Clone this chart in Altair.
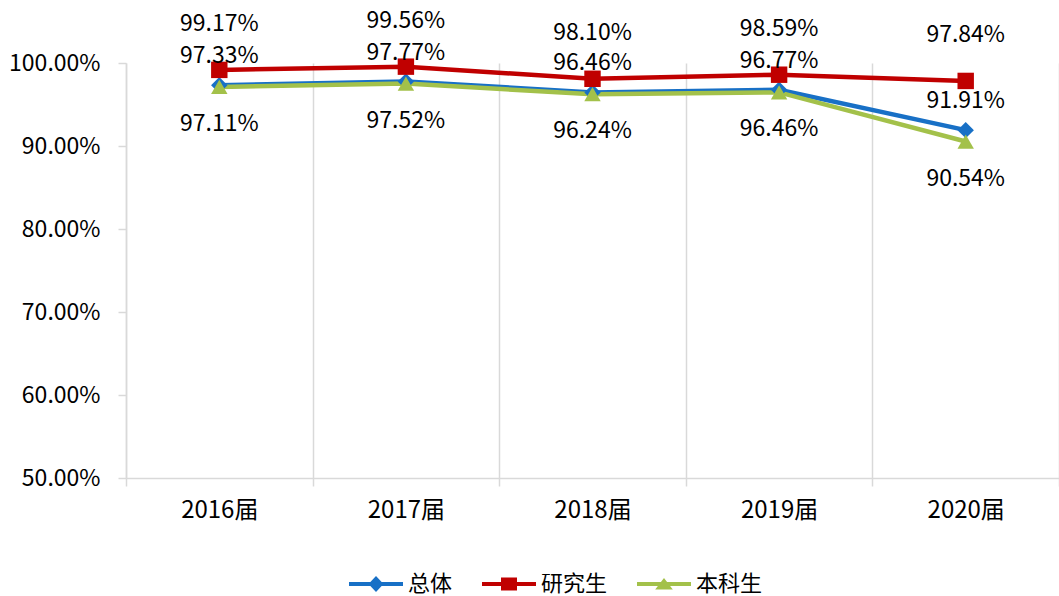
import altair as alt
import pandas as pd

# ---- data ----
years = ["2016届", "2017届", "2018届", "2019届", "2020届"]
series_names = ["总体", "研究生", "本科生"]
overall = [97.33, 97.77, 96.46, 96.77, 91.91]
graduate = [99.17, 99.56, 98.10, 98.59, 97.84]
undergraduate = [97.11, 97.52, 96.24, 96.46, 90.54]
y_ticks = [50, 60, 70, 80, 90, 100]

# ---- styles ----
colors = ["#1870C6", "#C00000", "#A3C14A"]
shapes = ["diamond", "square", "triangle-up"]
# legend symbols: path coords scaled by r = sqrt(symbolSize)/2 = 10
legend_paths = [
    "M-2.7,-0.2L2.7,-0.2L2.7,0.2L-2.7,0.2Z M0,-0.8L0.75,0L0,0.8L-0.75,0Z",
    "M-2.7,-0.2L2.7,-0.2L2.7,0.2L-2.7,0.2Z M-0.8,-0.66L0.8,-0.66L0.8,0.66L-0.8,0.66Z",
    "M-2.7,-0.2L2.7,-0.2L2.7,0.2L-2.7,0.2Z M0,-0.6L0.88,0.55L-0.88,0.55Z",
]
label_dy = {"总体": -29, "研究生": -46, "本科生": 37}
FONT = "Noto Sans CJK SC"
TXT = "#000000"
GRID = "#D9D9D9"

rows = []
for name, vals in zip(series_names, [overall, graduate, undergraduate]):
    for yr, v in zip(years, vals):
        rows.append({"year": yr, "series": name, "value": v, "label": f"{v:.2f}%"})
df = pd.DataFrame(rows)

x_enc = alt.X(
    "year:N",
    sort=years,
    scale=alt.Scale(type="band", paddingInner=0, paddingOuter=0),
    axis=alt.Axis(
        title=None, tickBand="extent", grid=True, gridColor=GRID, gridWidth=1.5,
        domainColor=GRID, domainWidth=1.5, tickColor=GRID, tickWidth=1.5, tickSize=8,
        labelFont=FONT, labelFontSize=24, labelColor=TXT, labelPadding=12, labelAngle=0,
    ),
)
y_enc = alt.Y(
    "value:Q",
    scale=alt.Scale(domain=[50, 100], nice=False, zero=False),
    axis=alt.Axis(
        title=None, values=y_ticks, labelExpr="format(datum.value, '.2f') + '%'",
        grid=False, domainColor=GRID, domainWidth=1.5, tickColor=GRID, tickWidth=1.5,
        tickSize=8, labelFont=FONT, labelFontSize=23, labelColor=TXT, labelPadding=18,
    ),
)
cscale = alt.Scale(domain=series_names, range=colors)

base = alt.Chart(df)

lines = base.mark_line(strokeWidth=4.5).encode(
    x=x_enc, y=y_enc, color=alt.Color("series:N", scale=cscale, legend=None)
)
points = base.mark_point(filled=True, opacity=1, size=270).encode(
    x=x_enc, y=y_enc,
    color=alt.Color("series:N", scale=cscale, legend=None),
    shape=alt.Shape("series:N", scale=alt.Scale(domain=series_names, range=shapes), legend=None),
)
texts = [
    base.transform_filter(alt.datum.series == name)
    .mark_text(font=FONT, fontSize=23, color=TXT, dy=label_dy[name])
    .encode(x=x_enc, y=y_enc, text="label:N")
    for name in series_names
]

leg = alt.Legend(
    title=None, orient="none", legendX=239, legendY=510, direction="horizontal",
    columns=3, symbolSize=400, symbolOpacity=1, symbolStrokeWidth=0,
    labelFont=FONT, labelFontSize=22, labelColor=TXT, labelOffset=21,
    columnPadding=29, padding=0,
)
legend_layer = base.mark_point(filled=True, opacity=0).encode(
    x=x_enc, y=y_enc,
    color=alt.Color("series:N", scale=alt.Scale(domain=series_names, range=colors), legend=leg),
    shape=alt.Shape("series:N", scale=alt.Scale(domain=series_names, range=legend_paths), legend=leg),
)

chart = (
    alt.layer(lines, points, *texts, legend_layer)
    .resolve_scale(color="independent", shape="independent")
    .properties(
        width=933, height=415,
        autosize=alt.AutoSizeParams(type="none"),
        padding={"left": 126, "top": 63, "right": 0, "bottom": 118},
        background="white",
    )
    .configure_view(stroke=None)
)

chart.save("out.html", embed_options={"renderer": "svg", "actions": False})
